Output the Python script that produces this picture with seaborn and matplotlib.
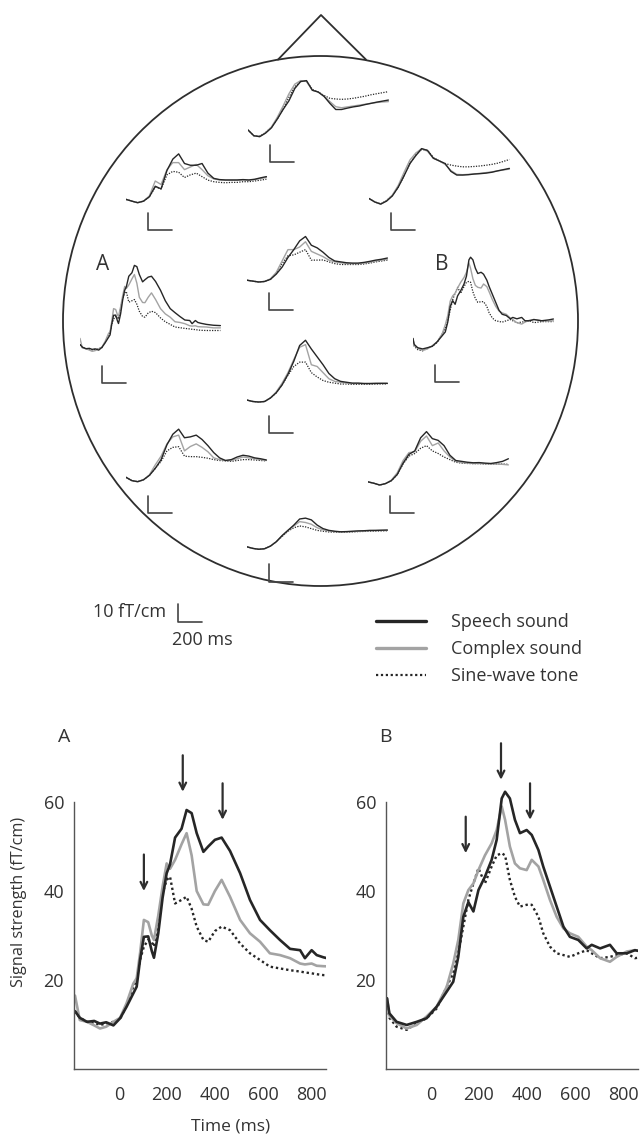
import matplotlib
matplotlib.use("Agg")
import matplotlib.pyplot as plt
from matplotlib.patches import Ellipse
from matplotlib.lines import Line2D
from matplotlib.transforms import ScaledTranslation
import seaborn as sns

sns.set_theme(style="white")
plt.rcParams['font.family'] = ['Open Sans', 'DejaVu Sans']

# ---------------- data: sensors A and B (also bottom panels) ----------------
t_A = [-200, -180, -150, -120, -96, -70, -40, -12, 15, 43, 57, 71, 87, 105, 120, 129, 147, 165,
       182, 196, 217, 244, 265, 286, 307, 335, 355, 383, 411, 446, 488, 529, 571, 612, 654, 696,
       738, 758, 786, 807, 835, 880, 940, 1000]
speech_A = [13.0, 11.5, 10.6, 10.8, 10.2, 10.5, 9.8, 11.4, 14.0, 17.0, 18.5, 24.5, 29.7, 29.8, 26.5,
            25.0, 30.5, 38.5, 44.0, 46.0, 52.0, 54.0, 58.2, 57.5, 53.0, 48.8, 50.0, 51.5, 52.0, 49.0,
            44.0, 38.0, 33.5, 31.2, 29.0, 27.0, 26.7, 24.9, 26.7, 25.6, 25.1, 24.5, 24.0, 23.8]
complex_A = [16.5, 11.0, 10.6, 9.8, 9.1, 9.5, 10.6, 11.5, 14.8, 19.2, 20.4, 26.0, 33.5, 33.0, 30.0,
             29.0, 34.5, 41.0, 46.2, 45.0, 47.0, 50.5, 53.0, 48.0, 40.0, 37.0, 36.9, 40.0, 42.5, 38.7,
             33.5, 30.5, 28.6, 26.0, 25.6, 24.9, 23.7, 23.5, 23.7, 23.2, 23.1, 23.0, 22.5, 22.5]
sine_A = [13.0, 11.5, 10.6, 10.4, 9.9, 10.2, 10.6, 11.2, 14.4, 18.5, 20.0, 24.5, 27.5, 29.0, 28.5,
          27.5, 33.5, 39.5, 42.5, 43.2, 37.2, 38.0, 38.7, 36.0, 32.0, 29.0, 28.6, 31.0, 32.0, 31.2,
          28.2, 26.0, 24.5, 23.0, 22.6, 22.2, 21.9, 21.7, 21.5, 21.3, 21.1, 21.0, 21.0, 21.0]

t_B = [-200, -190, -160, -118, -76, -35, 7, 49, 76, 97, 118, 139, 160, 181, 208, 236, 257, 278,
       292, 312, 333, 354, 382, 403, 431, 451, 479, 507, 535, 562, 597, 632, 653, 688, 729, 757,
       799, 833, 900, 960, 1000]
speech_B = [15.9, 12.5, 10.6, 9.9, 10.6, 11.4, 14.0, 17.4, 19.6, 25.2, 34.2, 37.5, 35.4, 40.2, 43.2,
            47.0, 51.5, 60.8, 62.3, 60.8, 56.0, 53.0, 53.7, 52.6, 49.2, 45.5, 41.0, 36.5, 32.0, 29.7,
            29.0, 27.1, 27.9, 27.1, 27.9, 26.0, 26.0, 26.7, 26.0, 26.5, 27.0]
complex_B = [15.9, 12.0, 10.3, 9.1, 9.9, 11.8, 14.0, 18.5, 23.7, 29.0, 37.2, 40.2, 41.7, 44.7, 48.0,
             50.7, 53.7, 59.0, 56.0, 50.0, 46.2, 45.1, 44.7, 47.0, 45.5, 42.5, 38.0, 34.2, 31.6, 30.5,
             29.7, 27.5, 26.7, 24.9, 24.1, 25.2, 26.4, 26.7, 26.0, 25.8, 26.0]
sine_B = [15.0, 11.5, 9.5, 8.8, 10.3, 11.4, 13.6, 18.5, 21.5, 26.0, 32.0, 38.0, 41.7, 45.1, 41.7,
          45.5, 48.0, 48.5, 48.0, 42.5, 38.7, 36.5, 36.9, 36.9, 34.2, 30.5, 27.5, 26.0, 25.6, 25.2,
          26.0, 26.7, 26.0, 24.9, 25.2, 25.6, 26.0, 24.9, 25.5, 25.5, 25.5]

arrow_A_t = [87, 249, 415]
arrow_A_tip = [40.0, 62.3, 56.0]
arrow_B_t = [128, 275, 396]
arrow_B_tip = [48.5, 65.0, 56.0]

# ---------------- data: other sensors (coarse) ----------------
t_mini = [-200, -150, -100, -50, 0, 50, 100, 150, 200, 250, 300, 350, 400, 450, 500, 550, 600,
          650, 700, 750, 800, 850, 900, 950, 1000]
mini_speech = {
    'top_center': [9.3, 6.0, 5.5, 7.5, 10.5, 15.5, 21.0, 26.0, 33.0, 37.0, 37.5, 32.0, 31.0, 28.5, 24.5,
                   21.0, 21.0, 21.8, 22.5, 23.0, 23.8, 24.5, 25.2, 25.8, 26.4],
    'upper_left': [8.5, 7.5, 6.6, 7.5, 10.0, 16.0, 14.5, 25.0, 31.5, 34.5, 29.0, 28.0, 28.0, 29.0, 23.5,
                   20.5, 19.8, 19.6, 19.6, 19.6, 19.8, 19.6, 20.0, 20.8, 21.5],
    'upper_right': [9.0, 7.0, 5.8, 7.5, 10.5, 15.5, 22.0, 29.0, 33.5, 37.5, 36.5, 32.0, 30.5, 29.0, 24.5,
                    22.4, 22.4, 22.6, 23.0, 23.2, 23.5, 24.0, 24.8, 25.5, 26.2],
    'center_upper': [8.0, 7.5, 7.0, 7.3, 8.5, 11.5, 15.5, 21.0, 25.5, 30.5, 33.0, 28.0, 26.5, 24.0, 21.0,
                     19.0, 18.5, 18.0, 17.8, 17.8, 18.2, 18.8, 19.5, 20.0, 20.7],
    'center_middle': [9.8, 9.0, 8.7, 9.0, 11.0, 14.0, 18.5, 24.5, 32.0, 41.0, 44.0, 39.0, 34.5, 30.0, 25.0,
                      22.0, 20.5, 20.0, 19.5, 19.5, 19.3, 19.3, 19.4, 19.4, 19.4],
    'lower_left': [11.4, 9.5, 8.9, 10.0, 12.5, 16.5, 21.5, 30.0, 36.0, 38.9, 34.0, 34.5, 35.5, 33.0, 29.5,
                   25.5, 22.5, 21.0, 21.5, 23.0, 24.0, 23.5, 22.5, 22.0, 21.3],
    'lower_right': [8.8, 8.0, 7.0, 7.8, 9.5, 13.0, 19.5, 24.5, 26.5, 34.0, 37.5, 33.5, 32.5, 29.5, 24.0,
                    21.0, 20.5, 20.0, 19.7, 19.8, 19.5, 19.3, 19.8, 20.5, 22.0],
    'bottom_center': [11.1, 10.2, 9.7, 10.0, 11.5, 14.0, 17.5, 20.5, 23.5, 27.0, 27.5, 26.5, 23.5, 21.5,
                      20.5, 20.0, 19.7, 19.8, 20.0, 20.2, 20.3, 20.5, 20.5, 20.6, 20.7],
}
mini_complex = {
    'top_center': [9.3, 6.0, 5.5, 7.8, 11.0, 16.5, 23.0, 30.0, 35.5, 37.5, 37.0, 32.0, 31.0, 28.5, 25.5,
                   22.6, 22.0, 22.5, 23.0, 23.5, 24.0, 24.5, 25.0, 25.3, 25.5],
    'upper_left': [8.5, 7.5, 6.6, 7.5, 10.5, 19.0, 17.0, 25.5, 29.5, 29.5, 25.5, 27.0, 28.5, 25.5, 22.0,
                   20.2, 19.6, 19.4, 19.4, 19.4, 19.6, 19.4, 19.8, 20.4, 21.0],
    'upper_right': [9.0, 7.0, 5.8, 7.8, 11.0, 16.5, 24.0, 31.0, 35.0, 37.5, 36.0, 32.0, 30.5, 28.5, 25.0,
                    22.8, 22.6, 22.8, 23.0, 23.4, 23.8, 24.2, 24.8, 25.3, 25.8],
    'center_upper': [8.0, 7.5, 7.0, 7.3, 8.8, 12.5, 19.0, 25.5, 25.5, 27.0, 30.0, 24.5, 23.0, 21.5, 19.5,
                     18.5, 18.0, 17.5, 17.5, 17.5, 17.8, 18.3, 19.0, 19.5, 20.0],
    'center_middle': [9.8, 9.0, 8.7, 9.0, 11.0, 14.5, 19.5, 25.5, 33.0, 40.0, 41.5, 30.0, 29.0, 25.5, 22.0,
                      20.5, 20.0, 19.5, 19.3, 19.3, 19.2, 19.2, 19.2, 19.3, 19.3],
    'lower_left': [11.4, 9.5, 8.9, 10.0, 12.8, 18.5, 23.5, 30.5, 34.5, 35.5, 26.5, 29.0, 30.5, 28.5, 26.0,
                   22.5, 21.5, 21.0, 21.0, 22.0, 23.0, 22.5, 22.0, 21.5, 21.0],
    'lower_right': [8.8, 8.0, 7.0, 7.8, 9.8, 14.0, 21.0, 25.5, 26.0, 32.0, 35.0, 29.5, 31.0, 26.5, 23.0,
                    20.5, 19.8, 19.5, 19.3, 19.3, 19.2, 19.0, 19.0, 18.8, 18.5],
    'bottom_center': [11.1, 10.2, 9.7, 10.0, 11.5, 14.0, 17.5, 20.5, 23.0, 25.5, 25.0, 24.0, 22.0, 20.8,
                      20.2, 19.8, 19.6, 19.7, 19.8, 20.0, 20.1, 20.3, 20.4, 20.5, 20.5],
}
mini_sine = {
    'top_center': [9.3, 6.0, 5.8, 7.8, 10.8, 15.5, 21.5, 28.0, 34.0, 37.0, 37.2, 32.5, 31.0, 29.0, 27.4,
                   27.0, 26.8, 27.0, 27.4, 28.0, 28.6, 29.4, 30.0, 30.6, 31.2],
    'upper_left': [8.5, 7.5, 6.6, 7.5, 10.0, 15.5, 14.5, 22.5, 24.5, 24.0, 21.0, 22.5, 23.5, 21.5, 19.5,
                   18.6, 18.2, 18.0, 18.2, 18.2, 18.6, 18.6, 19.0, 19.5, 20.0],
    'upper_right': [9.0, 7.0, 6.0, 7.8, 10.8, 15.5, 22.0, 29.0, 34.0, 37.0, 36.5, 32.5, 30.5, 29.0, 28.1,
                    27.5, 27.1, 27.1, 27.3, 27.6, 28.0, 28.5, 29.2, 30.2, 31.3],
    'center_upper': [8.0, 7.5, 7.0, 7.3, 8.5, 12.0, 17.5, 22.0, 22.5, 24.0, 25.5, 19.5, 19.5, 19.6, 18.5,
                     17.5, 17.0, 17.0, 17.0, 17.0, 17.3, 17.8, 18.5, 19.0, 19.5],
    'center_middle': [9.8, 9.0, 8.7, 9.0, 11.0, 14.0, 18.5, 24.0, 29.0, 31.5, 31.5, 25.5, 23.0, 21.0, 20.0,
                      19.5, 19.0, 19.0, 18.8, 18.8, 18.8, 18.8, 18.9, 19.0, 19.0],
    'lower_left': [11.4, 9.5, 8.9, 10.0, 12.5, 16.5, 20.5, 26.5, 28.5, 28.9, 23.5, 23.2, 23.2, 22.8, 22.3,
                   21.5, 21.0, 20.8, 20.5, 21.0, 21.5, 21.5, 21.3, 21.0, 20.8],
    'lower_right': [8.8, 8.0, 7.0, 7.8, 9.5, 13.0, 19.0, 23.5, 25.0, 28.0, 29.5, 26.5, 25.0, 23.0, 21.5,
                    20.0, 19.5, 19.3, 19.2, 19.2, 19.0, 19.0, 19.0, 19.0, 18.8],
    'bottom_center': [11.1, 10.2, 9.7, 10.0, 11.5, 14.0, 17.0, 20.0, 22.0, 23.0, 22.5, 21.5, 20.5, 20.0,
                      19.6, 19.5, 19.4, 19.5, 19.6, 19.8, 19.9, 20.0, 20.1, 20.2, 20.3],
}

labels = ['Speech sound', 'Complex sound', 'Sine-wave tone']

# ---------------- layout ----------------
W, H = 642, 1135
fig = plt.figure(figsize=(W / 100, H / 100), dpi=100)
TXT = '#333333'
DARK, GREY = '#262626', '#a3a3a3'

def rect(x0, y_top, x1, y_bot):
    return [x0 / W, 1 - y_bot / H, (x1 - x0) / W, (y_bot - y_top) / H]

# head outline (pixel-coordinate canvas)
head = fig.add_axes([0, 0, 1, 1])
head.set_xlim(0, W)
head.set_ylim(H, 0)
head.axis('off')
head.add_patch(Ellipse((320.5, 321), 515, 530, fill=False, ec='#2e2e2e', lw=1.3))
head.plot([278, 321, 366], [59.6, 15, 59.6], color='#2e2e2e', lw=1.3)
head.text(102.5, 265, 'A', fontsize=15, color=TXT, ha='center', va='center')
head.text(442, 265, 'B', fontsize=15, color=TXT, ha='center', va='center')

# scale bar explanation
head.plot([178, 178, 202], [604, 622, 622], color='#444444', lw=1.2)
head.text(166, 612, '10 fT/cm', fontsize=13, color=TXT, ha='right', va='center')
head.text(202, 640, '200 ms', fontsize=13, color=TXT, ha='center', va='center')

# mini sensor plots
PX_MS, PX_U = 0.117, 1.75
MX = (-200, 1030)
MY = (-10, 70)
sensor_pos = {  # (pixel x of -200 ms, pixel y of scale-bar corner)
    'top_center': (248, 162), 'upper_left': (126, 230), 'upper_right': (369, 230),
    'center_upper': (247, 310), 'A': (80, 383), 'B': (413, 382),
    'center_middle': (247, 433), 'lower_left': (126, 513), 'lower_right': (368, 513),
    'bottom_center': (247, 582),
}
wpx = (MX[1] - MX[0]) * PX_MS
hpx = (MY[1] - MY[0]) * PX_U

def draw_traces(ax, t, s, c, n, lw):
    sns.lineplot(x=t, y=n, ax=ax, color=DARK, lw=lw * 0.9, linestyle=(0, (1, 1.1)))
    sns.lineplot(x=t, y=c, ax=ax, color=GREY, lw=lw)
    sns.lineplot(x=t, y=s, ax=ax, color=DARK, lw=lw)

for name, (x0, yb) in sensor_pos.items():
    ybot = yb + (-9 - MY[0]) * PX_U
    ax = fig.add_axes(rect(x0, ybot - hpx, x0 + wpx, ybot))
    ax.patch.set_alpha(0)
    if name == 'A':
        draw_traces(ax, t_A, speech_A, complex_A, sine_A, 1.0)
    elif name == 'B':
        draw_traces(ax, t_B, speech_B, complex_B, sine_B, 1.0)
    else:
        draw_traces(ax, t_mini, mini_speech[name], mini_complex[name], mini_sine[name], 1.0)
    ax.plot([-10, -10, 190], [1, -9, -9], color='#444444', lw=1.2)
    ax.set_xlim(*MX)
    ax.set_ylim(*MY)
    ax.axis('off')

# legend
handles = [Line2D([], [], color=DARK, lw=2.4),
           Line2D([], [], color=GREY, lw=2.4),
           Line2D([], [], color=DARK, lw=1.6, linestyle=(0, (1, 1.2)))]
leg = fig.legend(handles, labels, loc='upper left', bbox_to_anchor=(376 / W, 1 - 613 / H),
                 frameon=False, fontsize=13, handlelength=2.75, handletextpad=1.4,
                 labelspacing=0.5, borderpad=0, borderaxespad=0)
for tx in leg.get_texts():
    tx.set_color(TXT)

# bottom panels
PXB_MS, PXB_U = 0.24, 4.45
BX = (-205, 845)
BY = (0, 75)

def panel(left0, t, s, c, n, at, atip, first):
    x_left = left0 + BX[0] * PXB_MS
    x_right = left0 + BX[1] * PXB_MS
    y_bot = 1069
    y_top = y_bot - (BY[1] - BY[0]) * PXB_U
    ax = fig.add_axes(rect(x_left, y_top, x_right, y_bot))
    ax.patch.set_alpha(0)
    sns.lineplot(x=t, y=n, ax=ax, color=DARK, lw=1.7, linestyle=(0, (1, 1.2)))
    sns.lineplot(x=t, y=c, ax=ax, color=GREY, lw=1.9)
    sns.lineplot(x=t, y=s, ax=ax, color=DARK, lw=1.9)
    ax.set_xlim(*BX)
    ax.set_ylim(*BY)
    for sp in ['top', 'right']:
        ax.spines[sp].set_visible(False)
    for sp in ['left', 'bottom']:
        ax.spines[sp].set_color('#555555')
        ax.spines[sp].set_linewidth(1.0)
    ax.spines['left'].set_bounds(0, 60)
    ax.set_yticks([10, 20, 30, 40, 50, 60])
    ax.set_yticklabels(['', '20', '', '40', '', '60'])
    ax.set_xticks([0, 200, 400, 600, 800])
    ax.tick_params(direction='in', length=4, width=1, color='#555555', labelsize=13,
                   labelcolor=TXT)
    ax.tick_params(axis='x', pad=12)
    ax.tick_params(axis='y', pad=7)
    shift = ScaledTranslation(-4 / 100, 0, fig.dpi_scale_trans)
    for lab in ax.get_xticklabels():
        lab.set_transform(lab.get_transform() + shift)
    for tt, tip in zip(at, atip):
        ax.annotate('', xy=(tt, tip), xytext=(tt, tip + 8.2),
                    arrowprops=dict(arrowstyle='->', lw=1.6, color='#2e2e2e',
                                    mutation_scale=12, shrinkA=0, shrinkB=0),
                    annotation_clip=False)
    if first:
        ax.set_ylabel('Signal strength (fT/cm)', fontsize=11.7, color=TXT, labelpad=12)
        ax.set_xlabel('Time (ms)', fontsize=12.5, color=TXT)
        ax.xaxis.set_label_coords((231 - x_left) / (x_right - x_left), -0.147)
    else:
        ax.set_xlabel('')
        ax.set_ylabel('')
    ax.grid(False)
    return ax

panel(123, t_A, speech_A, complex_A, sine_A, arrow_A_t, arrow_A_tip, True)
panel(435, t_B, speech_B, complex_B, sine_B, arrow_B_t, arrow_B_tip, False)
head.text(64, 737, 'A', fontsize=14, color=TXT, ha='center', va='center')
head.text(385, 737, 'B', fontsize=14, color=TXT, ha='center', va='center')

fig.savefig('out.png', dpi=100, facecolor='white')
